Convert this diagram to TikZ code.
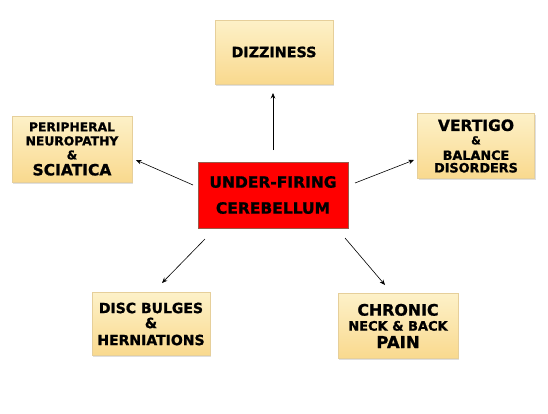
\documentclass[tikz,border=0pt]{standalone}
\usepackage{fontspec}
\setmainfont{DejaVu Sans}[BoldFeatures={FakeBold=1.2}]
\usetikzlibrary{shadows,arrows.meta}
\definecolor{boxtop}{HTML}{FDF1C8}
\definecolor{boxbot}{HTML}{F9D98E}
\definecolor{boxline}{HTML}{E6CF9A}
\definecolor{redline}{HTML}{9A5A4A}
\newcommand{\fs}[2]{{\fontsize{#1}{16}\selectfont #2}}
\begin{document}
\begin{tikzpicture}[x=1pt,y=-1pt,
  sym/.style={draw=boxline,line width=0.6pt,top color=boxtop,bottom color=boxbot,
    align=center,inner sep=0pt,font=\fontsize{13}{16}\bfseries\selectfont,
    drop shadow={shadow xshift=1pt,shadow yshift=-1.5pt,opacity=0.25}},
  arr/.style={-{Stealth[length=5.5pt,width=4.5pt]},line width=0.6pt,black}]
\useasboundingbox (0,0) rectangle (548,413);
\node[draw=redline,line width=0.6pt,fill=red,minimum width=150pt,minimum height=66pt,align=center,
  font=\fontsize{15.5}{26}\bfseries\selectfont] (c) at (273,195) {UNDER-FIRING\\CEREBELLUM};
\node[sym,minimum width=118pt,minimum height=64pt,font=\fontsize{14.3}{16}\bfseries\selectfont] (d) at (274,52) {DIZZINESS};
\node[sym,minimum width=120pt,minimum height=66pt,font=\fontsize{12}{15}\bfseries\selectfont] (p) at (72,149)
  {\fs{12.3}{PERIPHERAL}\\[-1pt]\fs{12.3}{NEUROPATHY}\\[-1pt]\fs{12}{\&}\\[1pt]\fs{15.5}{SCIATICA}};
\node[sym,minimum width=117pt,minimum height=65pt,font=\fontsize{12}{15}\bfseries\selectfont] (v) at (476,146)
  {\fs{15.5}{VERTIGO}\\[-1.5pt]\fs{11}{\&}\\[0.5pt]\fs{12.8}{BALANCE}\\[-2.5pt]\fs{12.8}{DISORDERS}};
\node[sym,minimum width=118pt,minimum height=63pt] (b) at (151,324)
  {\fs{14}{DISC BULGES}\\[-1pt]\fs{14}{\&}\\[1pt]\fs{14}{HERNIATIONS}};
\node[sym,minimum width=120pt,minimum height=65pt] (n) at (398,326)
  {\fs{15.8}{CHRONIC}\\[-1pt]\fs{13}{NECK \& BACK}\\[1.5pt]\fs{16.5}{PAIN}};
\coordinate (cu) at (273,150); \coordinate (du) at (273,93);
\coordinate (cl) at (193,185); \coordinate (pl) at (136,160);
\coordinate (cr) at (355,183); \coordinate (vr) at (414,160);
\coordinate (cbl) at (205,239); \coordinate (bl) at (162,283);
\coordinate (cbr) at (345,238); \coordinate (br) at (385,285);
\draw[arr] (cu) -- (du);
\draw[arr] (cl) -- (pl);
\draw[arr] (cr) -- (vr);
\draw[arr] (cbl) -- (bl);
\draw[arr] (cbr) -- (br);
\end{tikzpicture}
\end{document}
